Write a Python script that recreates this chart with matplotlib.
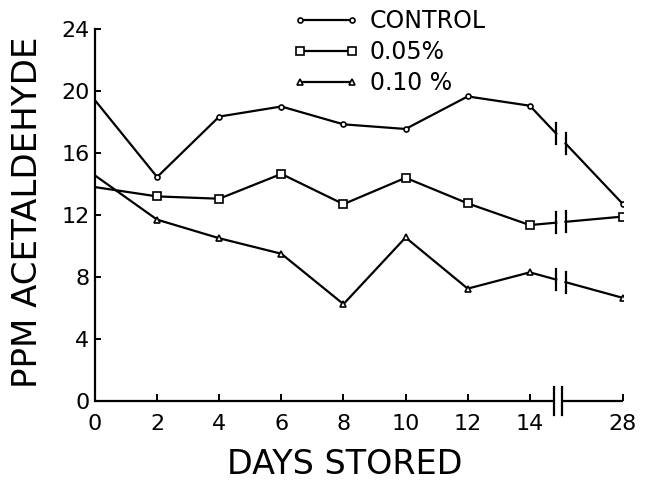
import matplotlib
matplotlib.use("Agg")
import matplotlib.pyplot as plt
from matplotlib.lines import Line2D
from matplotlib.legend_handler import HandlerLine2D

# Acetaldehyde (ppm) over storage time
days = [0, 2, 4, 6, 8, 10, 12, 14, 28]
control = [19.4, 14.45, 18.35, 19.0, 17.85, 17.55, 19.65, 19.05, 12.7]
conc_005 = [13.8, 13.2, 13.05, 14.65, 12.7, 14.4, 12.75, 11.35, 11.9]
conc_010 = [14.55, 11.7, 10.5, 9.5, 6.25, 10.55, 7.25, 8.3, 6.65]
series_labels = ["CONTROL", "0.05%", "0.10 %"]
tick_days = [0, 2, 4, 6, 8, 10, 12, 14, 28]
y_ticks = [0, 4, 8, 12, 16, 20, 24]

# Broken x axis: days after 14 are compressed so day 28 sits 3 units past 14
BREAK_FROM = 14
COMPRESSED_28 = 17
BREAK_AT = 15.0


def xpos(d):
    return d if d <= BREAK_FROM else COMPRESSED_28


plt.rcParams["font.family"] = ["DejaVu Sans"]

fig = plt.figure(figsize=(6.52, 4.8), dpi=100)
ax = fig.add_axes([95 / 652, 1 - 401 / 480, (623 - 95) / 652, (401 - 29) / 480])
ax.set_xlim(0, COMPRESSED_28)
ax.set_ylim(0, 24)

lw = 1.6
markers = ["o", "s", "^"]
msizes = [3.6, 5.2, 4.6]
bar_half = 0.68  # half height of break bars (data units)


def draw_series(vals, marker, ms):
    xs = [xpos(d) for d in days]
    ax.plot(xs[:8], vals[:8], color="black", lw=lw, zorder=3)
    # broken segment between day 14 and day 28
    x14, y14 = xs[7], vals[7]
    x28, y28 = xs[8], vals[8]
    bl, br = BREAK_AT - 0.15, BREAK_AT + 0.15
    yl = y14 + (y28 - y14) * (bl - x14) / (x28 - x14)
    yr = y14 + (y28 - y14) * (br - x14) / (x28 - x14)
    ax.plot([x14, bl], [y14, yl], color="black", lw=lw, zorder=3)
    ax.plot([br, x28], [yr, y28], color="black", lw=lw, zorder=3)
    for xb, yb in ((bl, yl), (br, yr)):
        ax.plot([xb, xb], [yb - bar_half, yb + bar_half], color="black",
                lw=lw, zorder=3)
    ax.plot(xs[1:], vals[1:], linestyle="none", marker=marker, ms=ms,
            mfc="white", mec="black", mew=1.2, zorder=4)


for vals, m, ms in zip([control, conc_005, conc_010], markers, msizes):
    draw_series(vals, m, ms)

# axes styling
for side in ("top", "right", "bottom"):
    ax.spines[side].set_visible(False)
ax.spines["left"].set_linewidth(1.6)

# bottom axis drawn in two pieces with a break
ax.plot([0, BREAK_AT - 0.22], [0, 0], color="black", lw=1.6, clip_on=False,
        solid_capstyle="butt", zorder=5)
ax.plot([BREAK_AT + 0.05, COMPRESSED_28], [0, 0], color="black", lw=1.6,
        clip_on=False, solid_capstyle="butt", zorder=5)
for xb in (BREAK_AT - 0.22, BREAK_AT + 0.05):
    ax.plot([xb, xb], [-0.9, 0.9], color="black", lw=1.6, clip_on=False, zorder=5)

ax.set_xticks([xpos(d) for d in tick_days])
ax.set_xticklabels([str(d) for d in tick_days])
ax.set_yticks(y_ticks)
ax.set_yticklabels([str(v) for v in y_ticks])
ax.tick_params(axis="x", direction="in", length=5, width=1.4, labelsize=16, pad=9)
ax.tick_params(axis="y", direction="in", length=4, width=1.4, labelsize=16, pad=4)

fig.text(28 / 652, 1 - 212 / 480, "PPM ACETALDEHYDE", rotation=90,
         ha="center", va="center", fontsize=24.5)
fig.text(345 / 652, 1 - 465 / 480, "DAYS STORED", ha="center", va="center",
         fontsize=24)

handles = [Line2D([], [], color="black", lw=lw, marker=m, ms=ms, mfc="white",
                  mec="black", mew=1.2) for m, ms in zip(markers, msizes)]
fig.legend(handles, series_labels, loc="upper left",
           bbox_to_anchor=(300 / 652, 1 - 9 / 480), frameon=False,
           numpoints=2, handlelength=2.2, handletextpad=0.76, labelspacing=0.3,
           borderpad=0, borderaxespad=0, fontsize=17,
           handler_map={Line2D: HandlerLine2D(marker_pad=0)})

fig.savefig("out.png", dpi=100)
